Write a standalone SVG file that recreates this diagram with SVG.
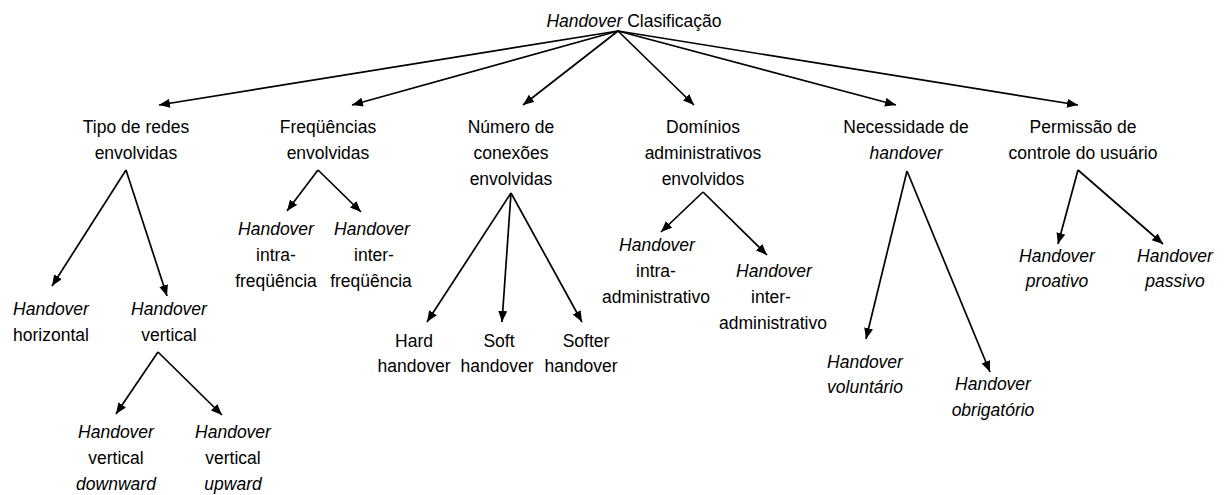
<svg xmlns="http://www.w3.org/2000/svg" width="1229" height="495" viewBox="0 0 1229 495">
  <style>
    text { font-family: "Liberation Sans", Arial, sans-serif; font-size: 17.5px; fill: #000; text-anchor: middle; }
    .it { font-style: italic; }
    .edge { stroke: #000; stroke-width: 1.7; fill: none; marker-end: url(#arrow); }
  </style>
  <defs>
    <marker id="arrow" markerUnits="userSpaceOnUse" markerWidth="12" markerHeight="10" refX="11" refY="4.5" orient="auto">
      <path d="M0,0 L11,4.5 L0,9 z" fill="#000"/>
    </marker>
  </defs>
  <rect width="1229" height="495" fill="#fff"/>

  <g id="connectors">
    <!-- root to categories -->
    <line class="edge" x1="618" y1="31" x2="159" y2="105"/>
    <line class="edge" x1="618" y1="31" x2="352" y2="105"/>
    <line class="edge" x1="618" y1="31" x2="523" y2="105"/>
    <line class="edge" x1="618" y1="31" x2="694" y2="105"/>
    <line class="edge" x1="618" y1="31" x2="896" y2="105"/>
    <line class="edge" x1="618" y1="31" x2="1078" y2="105"/>
    <!-- network type -->
    <line class="edge" x1="126" y1="170" x2="52" y2="286"/>
    <line class="edge" x1="126" y1="170" x2="167" y2="296"/>
    <line class="edge" x1="158" y1="352" x2="116" y2="414"/>
    <line class="edge" x1="158" y1="352" x2="222" y2="415"/>
    <!-- frequencies -->
    <line class="edge" x1="318" y1="170" x2="287" y2="211"/>
    <line class="edge" x1="318" y1="170" x2="361" y2="212"/>
    <!-- connections -->
    <line class="edge" x1="511" y1="193" x2="427" y2="322"/>
    <line class="edge" x1="511" y1="193" x2="502" y2="322"/>
    <line class="edge" x1="511" y1="193" x2="582" y2="322"/>
    <!-- administrative domains -->
    <line class="edge" x1="703" y1="192" x2="661" y2="232"/>
    <line class="edge" x1="703" y1="192" x2="767" y2="255"/>
    <!-- handover need -->
    <line class="edge" x1="907" y1="171" x2="866" y2="339"/>
    <line class="edge" x1="907" y1="171" x2="990" y2="372"/>
    <!-- user control -->
    <line class="edge" x1="1078" y1="170" x2="1058" y2="244"/>
    <line class="edge" x1="1078" y1="170" x2="1163" y2="244"/>
  </g>

  <g id="root">
    <text x="634" y="27"><tspan class="it">Handover</tspan> Clasificação</text>
  </g>

  <g id="tipo-redes">
    <text x="136" y="133">Tipo de redes</text>
    <text x="136" y="159">envolvidas</text>
  </g>
  <g id="frequencias">
    <text x="328" y="133">Freqüências</text>
    <text x="328" y="159">envolvidas</text>
  </g>
  <g id="numero-conexoes">
    <text x="511" y="133">Número de</text>
    <text x="511" y="159">conexões</text>
    <text x="511" y="185">envolvidas</text>
  </g>
  <g id="dominios">
    <text x="703" y="133">Domínios</text>
    <text x="703" y="159">administrativos</text>
    <text x="703" y="185">envolvidos</text>
  </g>
  <g id="necessidade">
    <text x="906" y="133">Necessidade de</text>
    <text x="906" y="159" class="it">handover</text>
  </g>
  <g id="permissao">
    <text x="1083" y="133">Permissão de</text>
    <text x="1083" y="159">controle do usuário</text>
  </g>

  <g id="horizontal">
    <text x="51" y="315" class="it">Handover</text>
    <text x="51" y="341">horizontal</text>
  </g>
  <g id="vertical">
    <text x="169" y="315" class="it">Handover</text>
    <text x="169" y="341">vertical</text>
  </g>
  <g id="vertical-downward">
    <text x="116" y="438" class="it">Handover</text>
    <text x="116" y="464">vertical</text>
    <text x="116" y="490" class="it">downward</text>
  </g>
  <g id="vertical-upward">
    <text x="233" y="438" class="it">Handover</text>
    <text x="233" y="464">vertical</text>
    <text x="233" y="490" class="it">upward</text>
  </g>

  <g id="intra-frequencia">
    <text x="276" y="235" class="it">Handover</text>
    <text x="276" y="261">intra-</text>
    <text x="276" y="287">freqüência</text>
  </g>
  <g id="inter-frequencia">
    <text x="372" y="235" class="it">Handover</text>
    <text x="374" y="261">inter-</text>
    <text x="371" y="287">freqüência</text>
  </g>

  <g id="hard">
    <text x="414" y="347">Hard</text>
    <text x="414" y="372">handover</text>
  </g>
  <g id="soft">
    <text x="499" y="347">Soft</text>
    <text x="497" y="372">handover</text>
  </g>
  <g id="softer">
    <text x="586" y="347">Softer</text>
    <text x="581" y="372">handover</text>
  </g>

  <g id="intra-administrativo">
    <text x="657" y="251" class="it">Handover</text>
    <text x="656" y="277">intra-</text>
    <text x="656" y="303">administrativo</text>
  </g>
  <g id="inter-administrativo">
    <text x="774" y="277" class="it">Handover</text>
    <text x="771" y="303">inter-</text>
    <text x="773" y="329">administrativo</text>
  </g>

  <g id="voluntario">
    <text x="865" y="368" class="it">Handover</text>
    <text x="865" y="393" class="it">voluntário</text>
  </g>
  <g id="obrigatorio">
    <text x="993" y="390" class="it">Handover</text>
    <text x="993" y="416" class="it">obrigatório</text>
  </g>

  <g id="proativo">
    <text x="1057" y="262" class="it">Handover</text>
    <text x="1057" y="287" class="it">proativo</text>
  </g>
  <g id="passivo">
    <text x="1175" y="262" class="it">Handover</text>
    <text x="1175" y="287" class="it">passivo</text>
  </g>
</svg>
